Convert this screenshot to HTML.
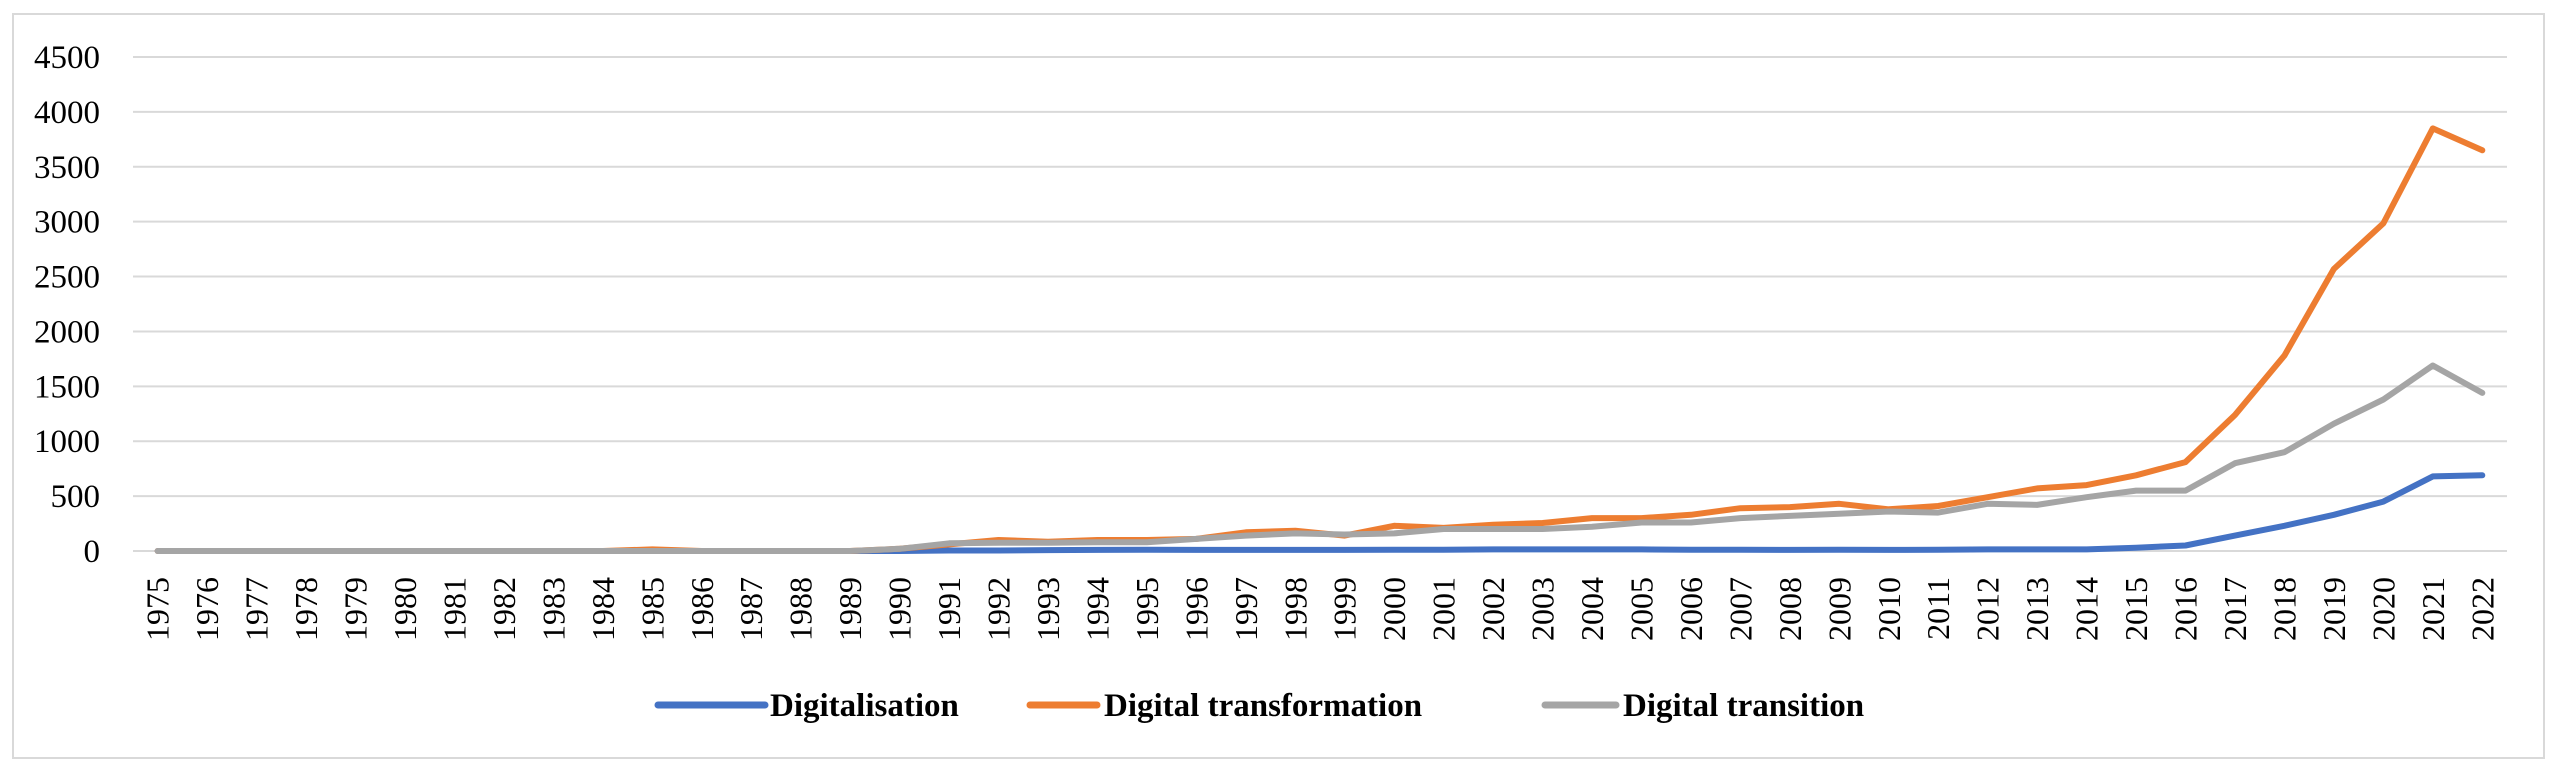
<!DOCTYPE html>
<html><head><meta charset="utf-8"><style>
html,body{margin:0;padding:0;background:#fff;}
svg{display:block;}
text{font-family:"Liberation Serif",serif;fill:#000;}
</style></head><body>
<svg id="s" width="2560" height="775" viewBox="0 0 2560 775" xmlns="http://www.w3.org/2000/svg">
<rect x="13" y="14" width="2531" height="744" fill="#fff" stroke="#D9D9D9" stroke-width="2"/>
<g id="grid"></g>
<g id="ylab"></g>
<g id="xlab"></g>
<g id="lines" fill="none" stroke-width="6" stroke-linejoin="round" stroke-linecap="round"></g>
<g>
<line x1="658" y1="705" x2="765" y2="705" stroke="#4472C4" stroke-width="7" stroke-linecap="round"/>
<text x="770" y="716" font-size="33" font-weight="bold">Digitalisation</text>
<line x1="1030" y1="705" x2="1097" y2="705" stroke="#ED7D31" stroke-width="7" stroke-linecap="round"/>
<text x="1104" y="716" font-size="33" font-weight="bold">Digital transformation</text>
<line x1="1545" y1="705" x2="1616" y2="705" stroke="#A5A5A5" stroke-width="7" stroke-linecap="round"/>
<text x="1623" y="716" font-size="33" font-weight="bold">Digital transition</text>
</g>
</svg>
<script>
var NS="http://www.w3.org/2000/svg";
function el(t,a,p,txt){var e=document.createElementNS(NS,t);for(var k in a)e.setAttribute(k,a[k]);if(txt!=null)e.textContent=txt;document.getElementById(p).appendChild(e);}
var y0=551,sc=494/4500,x0=133,x1=2507,n=48,sp=(x1-x0)/n;
for(var v=0;v<=4500;v+=500){var y=y0-v*sc;
 el("line",{x1:x0,x2:x1,y1:y,y2:y,stroke:"#D9D9D9","stroke-width":2},"grid");
 el("text",{x:100,y:y+11,"font-size":33,"text-anchor":"end"},"ylab",String(v));}
for(var i=0;i<n;i++){var x=x0+sp*(i+0.5);
 el("text",{transform:"translate("+(x+11)+",577) rotate(-90)","font-size":32,"text-anchor":"end"},"xlab",String(1975+i));}
var z=function(k){var a=[];for(var i=0;i<k;i++)a.push(0);return a;};
var blue=z(16).concat([5,5,8,10,12,10,10,10,10,12,12,15,15,15,15,12,12,10,12,10,12,15,15,15,30,50,140,230,330,450,680,690]);
var orange=z(10).concat([15,0,0,0,0,20,60,100,85,100,100,110,170,185,140,230,210,240,255,300,300,330,390,400,430,380,410,490,570,600,690,810,1240,1780,2570,2985,3850,3650]);
var gray=z(15).concat([20,70,75,75,80,80,110,140,160,150,160,200,200,200,220,260,260,300,320,340,360,350,430,420,490,550,550,800,900,1160,1380,1690,1440]);
[[blue,"#4472C4"],[orange,"#ED7D31"],[gray,"#A5A5A5"]].forEach(function(s){
 var p=s[0].slice(0,48).map(function(v,i){return (x0+sp*(i+0.5)).toFixed(1)+","+(y0-v*sc).toFixed(1);}).join(" ");
 el("polyline",{points:p,stroke:s[1]},"lines");});
</script>
</body></html>
